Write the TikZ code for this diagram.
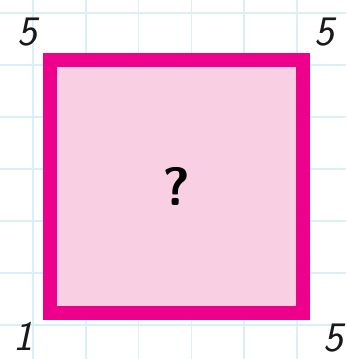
\documentclass[tikz,border=0pt]{standalone}
\usepackage{tikz}
\usetikzlibrary{positioning,calc}
\definecolor{gLine}{RGB}{220,239,248}
\definecolor{sqLine}{RGB}{236,0,140}
\definecolor{sqFill}{RGB}{249,208,227}
\tikzset{
  gridline/.style={draw=gLine, line width=1.6pt},
  sqbox/.style={rectangle, draw=sqLine, fill=sqFill, line width=14pt,
                minimum size=253pt, inner sep=0pt,
                font=\fontsize{54}{54}\selectfont\sffamily\bfseries},
  numlbl/.style={font=\fontsize{42}{42}\selectfont\sffamily\slshape,
                 inner sep=0pt, text=black!90},
}
\begin{document}
\begin{tikzpicture}[x=1pt,y=-1pt]
  \useasboundingbox[fill=white] (0,0) rectangle (346,359);
  % grid paper
  \foreach \k in {0,...,5}
    \draw[gridline] (33+52.8*\k,0) -- (33+52.8*\k,359);
  \foreach \k in {0,...,6}
    \draw[gridline] (0,13+52*\k) -- (346,13+52*\k);

  \node[sqbox] (sq) at (176.5,186) {?};

  % corner numbers
  \node[numlbl] (tl) at ([shift={(-16,-20)}]sq.north west) {5};
  \node[numlbl] (tr) at ([shift={(14,-20)}]sq.north east) {5};
  \node[numlbl] (bl) at ([shift={(-20,17)}]sq.south west) {1};
  \node[numlbl] (br) at ([shift={(23,19)}]sq.south east) {5};
\end{tikzpicture}
\end{document}
